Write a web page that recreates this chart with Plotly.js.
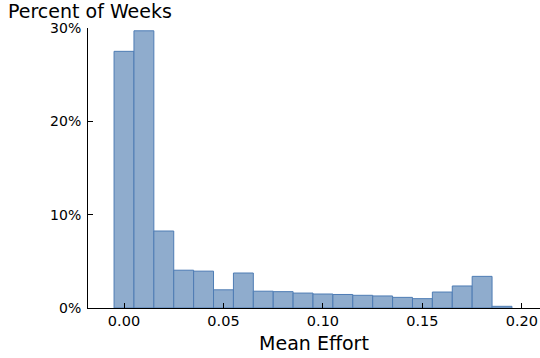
<!DOCTYPE html>
<html>
<head>
<meta charset="utf-8">
<script src="https://cdn.plot.ly/plotly-3.0.1.min.js"></script>
<style>body{margin:0;padding:0;background:#fff}#chart{width:540px;height:358px}</style>
</head>
<body>
<div id="chart"></div>
<script>
const binCenters = [0.00,0.01,0.02,0.03,0.04,0.05,0.06,0.07,0.08,0.09,0.10,0.11,0.12,0.13,0.14,0.15,0.16,0.17,0.18,0.19];
const percentOfWeeks = [27.5,29.7,8.25,4.05,3.95,1.95,3.75,1.8,1.75,1.6,1.5,1.45,1.36,1.29,1.14,1.0,1.71,2.36,3.39,0.18];
const binWidth = 0.01;
const xTicks = [0.00,0.05,0.10,0.15,0.20];
const xTickLabels = ["0.00","0.05","0.10","0.15","0.20"];
const yTicks = [0,10,20,30];
const yTickLabels = ["0%","10%","20%","30%"];

const trace = {
  type: 'bar',
  x: binCenters,
  y: percentOfWeeks,
  width: binCenters.map(()=>binWidth),
  marker: {color: 'rgb(143,172,205)', line: {color: 'rgb(78,124,180)', width: 1}},
  hoverinfo: 'skip'
};
const layout = {
  width: 540, height: 358,
  margin: {l: 88, r: 0, t: 28, b: 50, pad: 0},
  paper_bgcolor: '#fff', plot_bgcolor: '#fff',
  showlegend: false,
  bargap: 0,
  font: {family: 'DejaVu Sans', color: '#000'},
  xaxis: {
    range: [-0.0181, 0.2091],
    tickvals: xTicks, ticktext: xTickLabels,
    ticks: 'inside', ticklen: 5, tickcolor: '#000', tickwidth: 1,
    showline: true, linecolor: '#000', linewidth: 1,
    showgrid: false, zeroline: false,
    tickfont: {size: 14.5, family: 'DejaVu Sans'},
    title: {text: 'Mean Effort', font: {size: 19, family: 'DejaVu Sans'}, standoff: 8}
  },
  yaxis: {
    range: [0, 30],
    tickvals: yTicks, ticktext: yTickLabels,
    ticks: 'inside', ticklen: 5, tickcolor: '#000', tickwidth: 1,
    showline: true, linecolor: '#000', linewidth: 1,
    showgrid: false, zeroline: false,
    ticklabelstandoff: 3,
    tickfont: {size: 14, family: 'DejaVu Sans'}
  },
  annotations: [{
    text: 'Percent of Weeks', xref: 'paper', yref: 'paper',
    x: -0.181, y: 1, xanchor: 'left', yanchor: 'bottom', yshift: 4,
    showarrow: false, font: {size: 19, family: 'DejaVu Sans', color: '#000'}
  }]
};
Plotly.newPlot('chart', [trace], layout, {displayModeBar: false, staticPlot: true});
</script>
</body>
</html>
